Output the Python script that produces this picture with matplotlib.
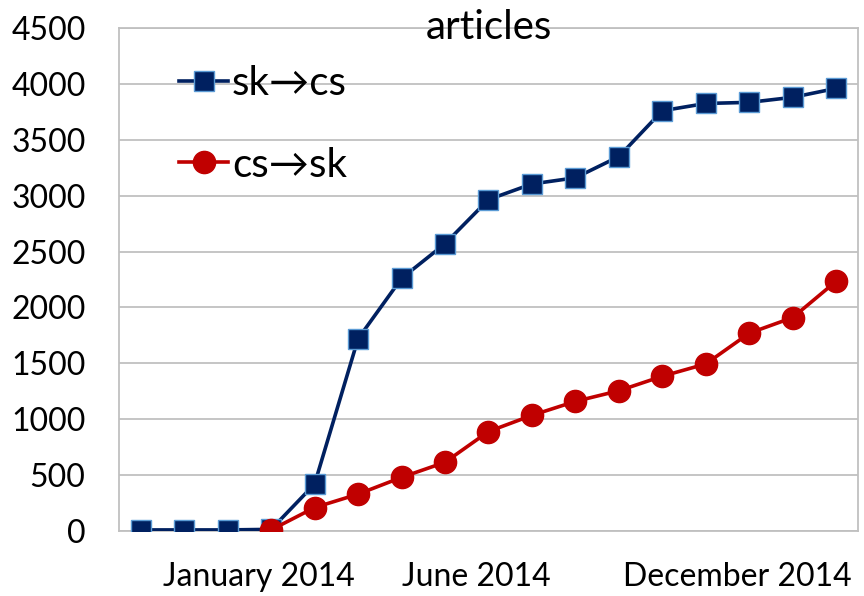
import numpy as np
import matplotlib.pyplot as plt
import matplotlib.transforms as mtransforms

plt.rcParams['font.family'] = ['Lato', 'DejaVu Sans']

# monthly cumulative counts, 17 months (Oct 2013 .. Feb 2015)
sk_cs = [10, 10, 10, 15, 420, 1720, 2260, 2570, 2965, 3105, 3160, 3350,
         3760, 3825, 3835, 3880, 3960]
cs_sk = [np.nan, np.nan, np.nan, 10, 210, 330, 480, 615, 890, 1035, 1160,
         1255, 1385, 1495, 1770, 1910, 2235]
tick_idx = [3, 8, 14]
tick_labels = ['January 2014', 'June 2014', 'December 2014']

x = np.arange(len(sk_cs))

fig = plt.figure(figsize=(8.64, 5.96), dpi=100)
ax = fig.add_axes([0.1377, 0.109, 0.8553, 0.844])

ax.plot(x, sk_cs, color='#002060', lw=2.6, marker='s', markersize=15,
        markerfacecolor='#002060', markeredgecolor='#5b9bd5', markeredgewidth=1,
        label='sk\u2192cs', zorder=3)
ax.plot(x, cs_sk, color='#c00000', lw=2.6, marker='o', markersize=16,
        markerfacecolor='#c00000', markeredgecolor='#c00000',
        label='cs\u2192sk', zorder=4)

ax.set_xlim(-0.5, len(sk_cs) - 0.5)
ax.set_ylim(0, 4500)
ax.set_yticks(np.arange(0, 4501, 500))
ax.set_xticks(tick_idx)
ax.set_xticklabels(tick_labels)
ax.tick_params(axis='both', length=0)
ax.tick_params(axis='y', pad=24, labelsize=23)
ax.tick_params(axis='x', pad=22, labelsize=23)
offset = mtransforms.ScaledTranslation(-12 / 100, 0, fig.dpi_scale_trans)
for lbl in ax.get_xticklabels():
    lbl.set_transform(lbl.get_transform() + offset)

ax.grid(axis='y', color='#c0c0c0', lw=1.3)
ax.set_axisbelow(True)
for s in ax.spines.values():
    s.set_color('#c0c0c0')
    s.set_linewidth(1.3)

ax.set_title('articles', fontsize=29, y=1.0, pad=-8)

leg = ax.legend(loc='upper left', bbox_to_anchor=(0.06, 0.958), frameon=False,
                fontsize=29, handlelength=1.2, handletextpad=0.1,
                labelspacing=1.1, borderaxespad=0)

fig.savefig('out.png', dpi=100)
